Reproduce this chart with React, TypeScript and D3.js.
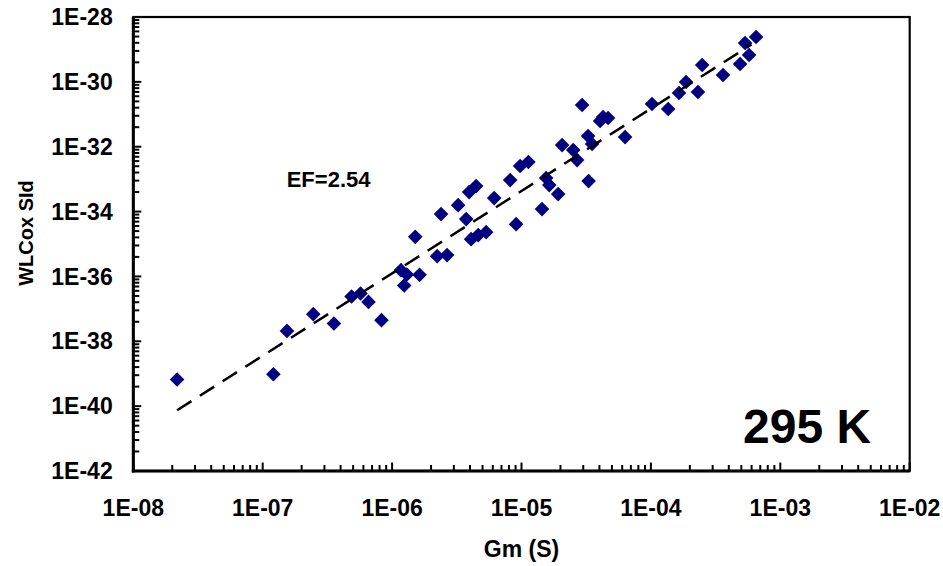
import React from "react";
import * as d3 from "d3";

// ---- data ----
const GM_S: number[] = [
  2.18e-8, 1.21e-7, 1.54e-7, 2.46e-7, 3.55e-7, 4.86e-7, 5.7e-7, 6.57e-7, 8.28e-7,
  1.17e-6, 1.3e-6, 1.24e-6, 1.63e-6, 1.51e-6, 2.23e-6, 2.66e-6, 2.39e-6, 3.24e-6,
  3.74e-6, 3.94e-6, 4.46e-6, 4.08e-6, 4.63e-6, 5.33e-6, 6.15e-6, 8.17e-6, 9.09e-6,
  9.76e-6, 1.13e-5, 1.44e-5, 1.55e-5, 1.64e-5, 1.92e-5, 2.06e-5, 2.51e-5, 2.69e-5,
  2.94e-5, 3.27e-5, 3.51e-5, 3.3e-5, 4.05e-5, 4.27e-5, 4.67e-5, 6.32e-5, 1.02e-4,
  1.36e-4, 1.65e-4, 1.87e-4, 2.31e-4, 2.49e-4, 3.61e-4, 4.89e-4, 5.74e-4, 5.34e-4,
  6.5e-4,
];
const WLCOX_SID: number[] = [
  6.64e-40, 9.66e-40, 2.09e-38, 6.86e-38, 3.54e-38, 2.41e-37, 2.99e-37, 1.64e-37, 4.48e-38,
  1.56e-36, 1.15e-36, 5.27e-37, 1.12e-36, 1.66e-35, 4.22e-36, 4.54e-36, 8.35e-35, 1.58e-34,
  5.85e-35, 3.98e-34, 6.11e-34, 1.41e-35, 1.88e-35, 2.32e-35, 2.6e-34, 9.35e-34, 4.1e-35,
  2.53e-33, 3.36e-33, 1.19e-34, 1.08e-33, 6.55e-34, 3.46e-34, 1.12e-32, 7.87e-33, 3.87e-33,
  1.93e-31, 2.13e-32, 1.21e-32, 8.71e-34, 6.18e-32, 8.22e-32, 7.65e-32, 1.98e-32, 2.07e-31,
  1.45e-31, 4.52e-31, 9.87e-31, 4.85e-31, 3.3e-30, 1.62e-30, 3.55e-30, 6.73e-30, 1.58e-29,
  2.42e-29,
];
// power-law fit: y = 10^FIT_LOG_A * x^FIT_EXPONENT over FIT_RANGE
const FIT_EXPONENT = 2.54;
const FIT_LOG_A = -20.665;
const FIT_RANGE: number[] = [2.18e-8, 6.0e-4];

const X_TICKS: number[] = [1e-8, 1e-7, 1e-6, 1e-5, 1e-4, 1e-3, 1e-2];
const X_TICK_LABELS: string[] = ["1E-08", "1E-07", "1E-06", "1E-05", "1E-04", "1E-03", "1E-02"];
const Y_TICKS: number[] = [1e-42, 1e-40, 1e-38, 1e-36, 1e-34, 1e-32, 1e-30, 1e-28];
const Y_TICK_LABELS: string[] = ["1E-42", "1E-40", "1E-38", "1E-36", "1E-34", "1E-32", "1E-30", "1E-28"];

const X_TITLE = "Gm (S)";
const Y_TITLE = "WLCox SId";
const ANNOT = "EF=2.54";
const TEMP_LABEL = "295 K";

// ---- layout ----
const W = 943;
const H = 566;
const L = 133.3;
const R = 909.7;
const T = 17;
const B = 471;
const FONT = "'Liberation Sans', Arial, Helvetica, sans-serif";
const NAVY = "#000080";

export default function App() {
  const x = d3.scaleLog().domain([1e-8, 1e-2]).range([L, R]);
  const y = d3.scaleLog().domain([1e-42, 1e-28]).range([B, T]);

  // minor ticks
  const xMinor: number[] = [];
  for (let e = -8; e < -2; e++) {
    for (let m = 2; m <= 9; m++) xMinor.push(m * Math.pow(10, e));
  }
  const yMinorLog: number[] = [];
  for (let e = -42; e < -28; e += 2) {
    for (let m = 2; m <= 9; m++) yMinorLog.push(e + 2 * Math.log10(m));
  }
  const yL = (lv: number) => y.range()[0] + (lv - -42) / 14 * (y.range()[1] - y.range()[0]);

  const fitLine = d3
    .line<number>()
    .x((v) => x(v))
    .y((v) => y(Math.pow(10, FIT_LOG_A + FIT_EXPONENT * Math.log10(v))));

  const diamond = "M0,-7.3L7.3,0L0,7.3L-7.3,0Z";

  return (
    <div style={{ position: "fixed", left: 0, top: 0, width: W, height: H, background: "#fff" }}>
      <svg width={W} height={H} viewBox={`0 0 ${W} ${H}`} style={{ display: "block" }}>
        <rect x={0} y={0} width={W} height={H} fill="#fff" />
        {/* frame */}
        <rect x={L} y={T} width={R - L} height={B - T} fill="none" stroke="#000" strokeWidth={2.2} />

        {/* points */}
        <g fill={NAVY}>
          {GM_S.map((g, i) => (
            <path key={i} d={diamond} transform={`translate(${x(g)},${y(WLCOX_SID[i])})`} />
          ))}
        </g>

        {/* fit line */}
        <path
          d={fitLine(FIT_RANGE) || ""}
          fill="none"
          stroke="#000"
          strokeWidth={2.5}
          strokeDasharray="17 10"
        />

        {/* axes lines */}
        <line x1={L} x2={L} y1={T} y2={B + 1.5} stroke="#000" strokeWidth={3} />
        <line x1={L - 1.5} x2={R} y1={B} y2={B} stroke="#000" strokeWidth={3} />

        {/* ticks */}
        <g stroke="#000" strokeWidth={2}>
          {xMinor.map((v, i) => (
            <line key={"xm" + i} x1={x(v)} x2={x(v)} y1={B} y2={B - 6} />
          ))}
          {X_TICKS.map((v, i) => (
            <line key={"xM" + i} x1={x(v)} x2={x(v)} y1={B} y2={B - 8.5} />
          ))}
          {yMinorLog.map((lv, i) => (
            <line key={"ym" + i} x1={L} x2={L + 6} y1={yL(lv)} y2={yL(lv)} />
          ))}
          {Y_TICKS.map((v, i) => (
            <line key={"yM" + i} x1={L} x2={L + 8} y1={y(v)} y2={y(v)} />
          ))}
        </g>

        {/* tick labels */}
        <g fontFamily={FONT} fontWeight="bold" fontSize={23} fill="#000">
          {X_TICKS.map((v, i) => (
            <text key={"xl" + i} x={x(v)} y={516} textAnchor="middle">
              {X_TICK_LABELS[i]}
            </text>
          ))}
          {Y_TICKS.map((v, i) => (
            <text key={"yl" + i} x={112.7} y={y(v) + 8.2} textAnchor="end">
              {Y_TICK_LABELS[i]}
            </text>
          ))}
        </g>

        {/* titles */}
        <text
          x={(L + R) / 2}
          y={557}
          textAnchor="middle"
          fontFamily={FONT}
          fontWeight="bold"
          fontSize={23}
        >
          {X_TITLE}
        </text>
        <text
          transform={`translate(33,233) rotate(-90)`}
          textAnchor="middle"
          fontFamily={FONT}
          fontWeight="bold"
          fontSize={20}
        >
          {Y_TITLE}
        </text>

        {/* annotations */}
        <text x={286.7} y={187.3} fontFamily={FONT} fontWeight="bold" fontSize={22}>
          {ANNOT}
        </text>
        <text x={743} y={443} fontFamily={FONT} fontWeight="bold" fontSize={48}>
          {TEMP_LABEL}
        </text>
      </svg>
    </div>
  );
}
